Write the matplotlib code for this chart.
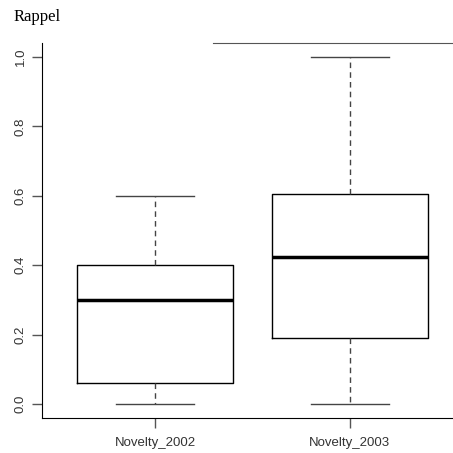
import matplotlib
matplotlib.use("Agg")
import matplotlib.pyplot as plt

# values
groups = ["Novelty_2002", "Novelty_2003"]
whislo = [0.0, 0.0]
q1 = [0.06, 0.19]
med = [0.30, 0.425]
q3 = [0.40, 0.605]
whishi = [0.60, 1.0]
yticks = [0.0, 0.2, 0.4, 0.6, 0.8, 1.0]

stats = []
for i, g in enumerate(groups):
    stats.append({"label": g, "whislo": whislo[i], "q1": q1[i], "med": med[i],
                  "q3": q3[i], "whishi": whishi[i], "fliers": []})

fig = plt.figure(figsize=(4.53, 4.53), dpi=100)
ax = fig.add_axes([42 / 453, 35 / 453, 1 - 42 / 453, 375 / 453])

ax.bxp(stats, positions=[1, 2], widths=0.8, showfliers=False,
       boxprops=dict(color="black", linewidth=1.0),
       medianprops=dict(color="black", linewidth=2.5),
       whiskerprops=dict(color="#444444", linewidth=1.0, linestyle=(0, (4, 3))),
       capprops=dict(color="#444444", linewidth=1.0),
       capwidths=0.4)

ax.set_xlim(0.418, 2.53)
ax.set_ylim(-0.04, 1.04)
ax.set_yticks(yticks)
ax.set_yticklabels([f"{v:.1f}" for v in yticks], rotation=90, va="center",
                   family="Liberation Sans", fontsize=9.5, color="#333333")
ax.set_xticks([1, 2])
ax.set_xticklabels(groups, family="Liberation Sans", fontsize=9.5, color="#333333")
ax.tick_params(axis="both", length=7, width=1, color="#555555", pad=4)
ax.tick_params(axis="x", pad=7)

ax.spines["right"].set_visible(False)
ax.spines["top"].set_bounds(1.296, 2.53)
ax.spines["top"].set_color("#555555")
for s in ["left", "bottom"]:
    ax.spines[s].set_color("black")

fig.text(14 / 453, 1 - 17 / 453, "Rappel", family="Liberation Serif", fontsize=12,
         va="center", ha="left")

fig.savefig("out.png", dpi=100)
